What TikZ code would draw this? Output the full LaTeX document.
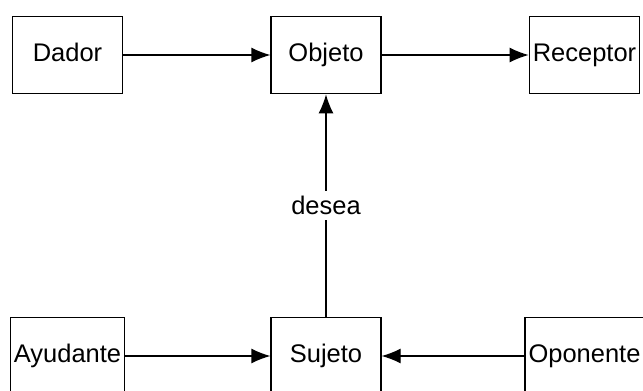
\documentclass[tikz,border=0pt]{standalone}
\usepackage{fontspec}
\setmainfont{Liberation Sans}
\usepackage{tikz}
\usetikzlibrary{arrows.meta,positioning}

\begin{document}
\begin{tikzpicture}[
    on grid,
    node distance = 6.02cm and 5.17cm,
    font = \fontsize{14.5}{17}\selectfont
  ]
  \tikzstyle{role} = [
    draw, rectangle,
    line width     = 0.7pt,
    text centered,
    inner sep      = 2pt,
    text height    = 0.7em,
    text depth     = 0em,
    minimum width  = 2.2cm,
    minimum height = 1.55cm
  ]
  \tikzstyle{arrow} = [draw, line width = 0.7pt,
    -{Latex[length=0.38cm, width=0.3cm]}]

  \clip (0,0) rectangle (12.86,-7.82);

  % upper row
  \node [role] at (1.35,-1.1)          (dador)    {Dador};
  \node [role, right = of dador]       (objeto)   {Objeto};
  \node [role, right = of objeto]      (receptor) {Receptor};

  % lower row
  \node [role, below = of dador]       (ayudante) {Ayudante};
  \node [role, below = of objeto]      (sujeto)   {Sujeto};
  \node [role, below = of receptor]    (oponente) {Oponente};

  \path [arrow] (dador)    -- (objeto);
  \path [arrow] (objeto)   -- (receptor);
  \path [arrow] (ayudante) -- (sujeto);
  \path [arrow] (oponente) -- (sujeto);
  \path [arrow] (sujeto)   -- node [midway, fill = white, inner sep = 3pt] (desea) {desea} (objeto);
\end{tikzpicture}
\end{document}
